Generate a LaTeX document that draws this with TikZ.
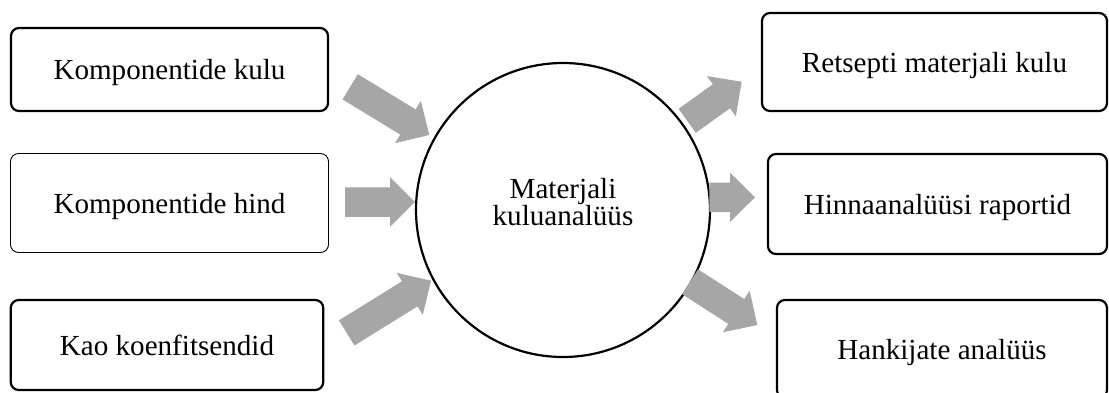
\documentclass[tikz,border=0pt]{standalone}
\usepackage{fontspec}
\setmainfont{Liberation Serif}
\usetikzlibrary{calc}
\definecolor{arrowgray}{RGB}{166,166,166}
\tikzset{
  box/.style={draw, rounded corners=8pt, line width=2.2pt, align=center,
    text height=24pt, text depth=4pt, inner sep=0pt,
    font=\fontsize{29.1}{34}\selectfont},
  thinbox/.style={box, line width=0.9pt},
  hub/.style={draw, circle, line width=2.2pt, minimum size=294pt, inner sep=0pt},
  hublabel/.style={align=center, inner sep=0pt,
    font=\fontsize{29.1}{26.7}\selectfont},
}
% broad grey block arrow from coordinate #1 (tail) to coordinate #2 (tip)
\newcommand\blockarrow[2]{%
  \coordinate (#1-h) at ($(#2)!25pt!(#1)$);
  \fill[arrowgray] ($(#1)!14.75pt!90:(#2)$)
    -- ($(#1-h)!14.75pt!-90:(#1)$)
    -- ($(#1-h)!24.75pt!-90:(#1)$)
    -- (#2)
    -- ($(#1-h)!24.75pt!90:(#1)$)
    -- ($(#1-h)!14.75pt!90:(#1)$)
    -- ($(#1)!14.75pt!-90:(#2)$) -- cycle;}
\begin{document}
\begin{tikzpicture}[x=1pt, y=-1pt]
  \useasboundingbox (0,0) rectangle (1109,392);
  \clip (0,0) rectangle (1109,392);

  % inputs
  \node[box, minimum width=317pt, minimum height=83pt] (kulu) at (169.5,69.5) {Komponentide kulu};
  \node[thinbox, minimum width=318pt, minimum height=99pt] (hind) at (169.5,203) {Komponentide hind};
  \node[box, minimum width=312.5pt, minimum height=90pt] (kadu) at (167,345) {Kao koenfitsendid};

  % centre
  \node[hub] (hub) at (563,210) {};
  \node[hublabel] (hubtext) at (563,201.8) {Materjali\\kuluanalüüs};

  % outputs
  \node[box, minimum width=345pt, minimum height=98pt] (retsept) at (934.5,62) {Retsepti materjali kulu};
  \node[box, minimum width=339pt, minimum height=100pt] (raport) at (937.5,204) {Hinnaanalüüsi raportid};
  \node[box, minimum width=330pt, minimum height=98pt] (hankija) at (942,349) {Hankijate analüüs};

  % arrow ends
  \coordinate (a1) at (350.2,86.8);  \coordinate (b1) at (429.3,135);
  \coordinate (a2) at (345,202);     \coordinate (b2) at (415,202);
  \coordinate (a3) at (346.7,332.9); \coordinate (b3) at (431,280.7);
  \coordinate (a4) at (687.2,120.8); \coordinate (b4) at (741.7,81.7);
  \coordinate (a5) at (709.3,197.3); \coordinate (b5) at (755,197.3);
  \coordinate (a6) at (690,281.7);   \coordinate (b6) at (757.3,325);

  \blockarrow{a1}{b1}
  \blockarrow{a2}{b2}
  \blockarrow{a3}{b3}
  \blockarrow{a4}{b4}
  \blockarrow{a5}{b5}
  \blockarrow{a6}{b6}
\end{tikzpicture}
\end{document}
